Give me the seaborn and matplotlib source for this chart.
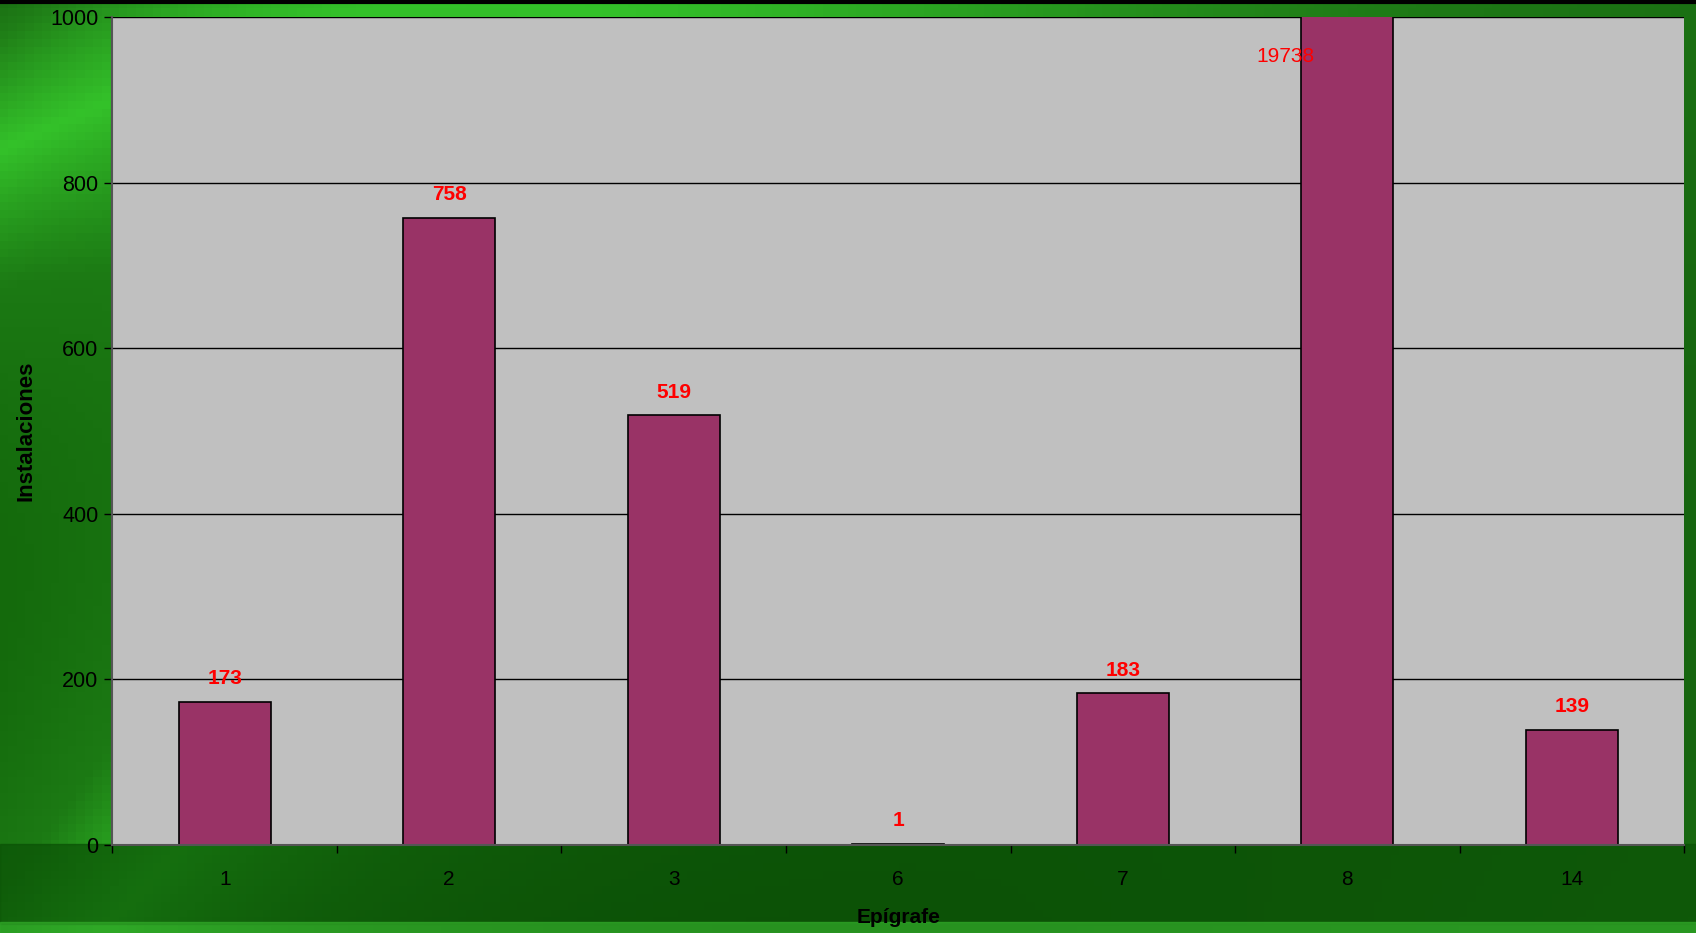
import numpy as np
import pandas as pd
import matplotlib
matplotlib.use('Agg')
import matplotlib.pyplot as plt
import seaborn as sns
from matplotlib.colors import LinearSegmentedColormap

# Data
epigrafes = ['1', '2', '3', '6', '7', '8', '14']
instalaciones = [173, 758, 519, 1, 183, 19738, 139]
y_max = 1000

df = pd.DataFrame({'Epígrafe': epigrafes, 'Instalaciones': instalaciones})

sns.set_style('white')
plt.rcParams['font.family'] = ['Liberation Sans', 'DejaVu Sans']
plt.rcParams['text.color'] = 'black'
plt.rcParams['axes.labelcolor'] = 'black'
plt.rcParams['xtick.color'] = 'black'
plt.rcParams['ytick.color'] = 'black'

fig = plt.figure(figsize=(16.96, 9.33), dpi=100)
fig.patch.set_facecolor('#1d6e12')

# green background, roughly like the photo behind the chart
bg = fig.add_axes([0, 0, 1, 1], zorder=-10)
cmap = LinearSegmentedColormap.from_list('g', ['#0f4f08', '#1f7d17', '#34c22a', '#1c7a14', '#146a0c'])
gx, gy = np.meshgrid(np.linspace(0, 1, 200), np.linspace(0, 1, 120))
grad = np.clip(0.5 + 0.45 * np.sin(3.2 * gx + 2.5 * gy) * np.exp(-2.5 * gx), 0, 1)
bg.imshow(grad, cmap=cmap, aspect='auto', extent=[0, 1, 0, 1], origin='upper')
bg.axhspan(0.01, 0.095, color='#0b5306', alpha=0.75)
bg.axhspan(0, 0.012, color='#2ea326', alpha=0.8)
bg.axhline(0.998, color='black', lw=3)
bg.set_xlim(0, 1)
bg.set_ylim(0, 1)
bg.set_axis_off()

ax = fig.add_axes([0.0663, 0.0946, 0.9267, 0.8869])
ax.set_facecolor('#c0c0c0')
sns.barplot(data=df, x='Epígrafe', y='Instalaciones', color='#993366',
            saturation=1, width=0.41, edgecolor='black', linewidth=1.2, ax=ax,
            zorder=3)

ax.set_ylim(0, y_max)
ax.set_xlim(-0.5, len(epigrafes) - 0.5)
ax.set_yticks(np.arange(0, y_max + 1, 200))
ax.yaxis.grid(True, color='black', lw=1)
ax.set_axisbelow(True)
for s in ['top', 'right']:
    ax.spines[s].set_visible(False)
for s in ['left', 'bottom']:
    ax.spines[s].set_color('#555555')
    ax.spines[s].set_linewidth(1.5)
    ax.spines[s].set_zorder(4)

ax.tick_params(axis='x', which='major', bottom=True, length=0, labelsize=15, pad=18)
ax.set_xticks(np.arange(-0.5, len(epigrafes), 1), minor=True)
ax.tick_params(axis='x', which='minor', bottom=True, length=6, width=1, color='black', direction='out')
ax.tick_params(axis='y', left=True, length=6, width=1, color='black', labelsize=15.5, pad=4)

ax.set_xlabel('Epígrafe', fontsize=15, fontweight='bold', labelpad=14)
ax.set_ylabel('Instalaciones', fontsize=16, fontweight='bold', labelpad=10)

for i, v in enumerate(instalaciones):
    if v > y_max:
        ax.text(i - 0.145, y_max - 47, str(v), color='red', fontsize=15,
                ha='right', va='center', zorder=5, clip_on=False)
    else:
        ax.text(i, v + 28, str(v), color='red', fontsize=15, fontweight='bold',
                ha='center', va='center', zorder=5)

fig.savefig('out.png', dpi=100, facecolor=fig.get_facecolor())
